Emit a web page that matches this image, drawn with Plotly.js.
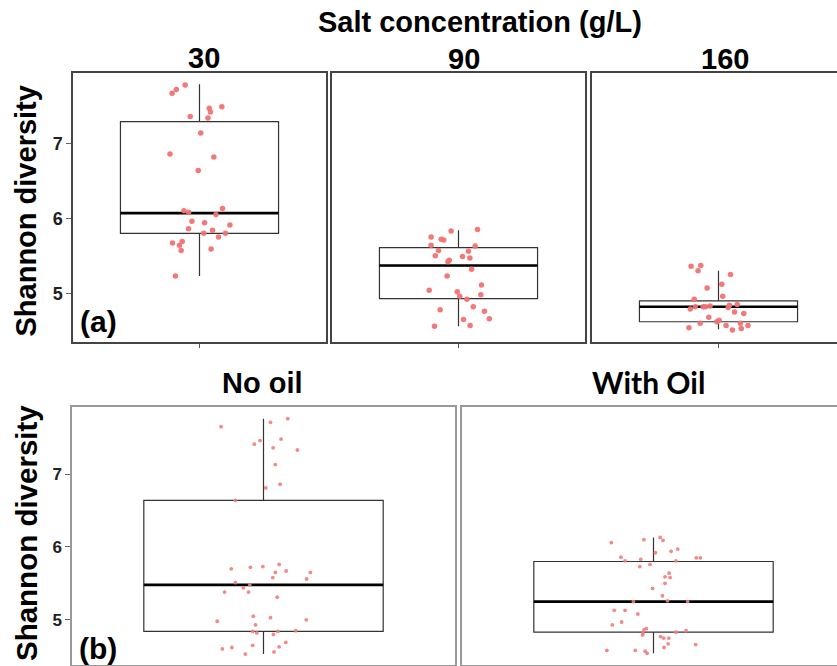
<!DOCTYPE html>
<html>
<head>
<meta charset="utf-8">
<script src="https://cdn.plot.ly/plotly-3.0.1.min.js"></script>
<style>
html,body{margin:0;padding:0;overflow:hidden;background:#fff;}
#chart{width:852px;height:666px;}
</style>
</head>
<body>
<div id="chart"></div>
<script>
// ---------------- DATA ----------------
const saltLevels = ['30', '90', '160'];
const oilGroups = ['No oil', 'With Oil'];
const yTicks = [5, 6, 7];

// box statistics
const saltQ1     = [5.80, 4.93, 4.62];
const saltMedian = [6.07, 5.37, 4.82];
const saltQ3     = [7.29, 5.61, 4.90];
const saltLow    = [5.23, 4.56, 4.52];
const saltHigh   = [7.79, 5.84, 5.30];

const oilQ1     = [4.84, 4.83];
const oilMedian = [5.48, 5.25];
const oilQ3     = [6.64, 5.80];
const oilLow    = [4.53, 4.54];
const oilHigh   = [7.76, 6.13];

// jittered points: value and horizontal jitter offset
const salt30Y   = [7.78,7.72,7.67,7.47,7.49,7.42,7.36,7.34,7.14,6.86,6.82,6.64,6.10,6.08,6.13,6.05,5.96,5.94,5.91,5.86,5.84,5.80,5.80,5.75,5.69,5.67,5.64,5.57,5.59,5.23];
const salt30Jit = [-0.068,-0.11,-0.13,0.046,0.106,0.052,-0.044,0.04,0.006,-0.14,0.068,-0.006,-0.074,-0.052,0.109,0.078,-0.036,0.024,0.144,-0.052,0.062,0.02,0.123,0.09,-0.082,-0.128,-0.095,-0.087,0.055,-0.114];

const salt90Y   = [5.85,5.83,5.75,5.72,5.71,5.64,5.63,5.57,5.56,5.50,5.49,5.47,5.44,5.42,5.32,5.23,5.11,5.04,5.02,4.98,4.96,4.92,4.82,4.78,4.76,4.66,4.65,4.56,4.57];
const salt90Jit = [0.09,-0.035,-0.13,-0.082,-0.07,-0.13,0.079,-0.095,0.047,-0.11,0.019,0.054,-0.044,-0.05,0.062,-0.054,0.109,-0.139,-0.006,0.106,0.006,0.04,0.07,-0.087,0.123,0.146,0.024,-0.114,0.055];

const salt160Y   = [5.36,5.37,5.30,5.25,5.12,5.07,4.96,4.92,4.82,4.79,4.82,4.82,4.83,4.84,4.85,4.81,4.75,4.73,4.68,4.64,4.62,4.60,4.57,4.60,4.57,4.54,4.51,4.53];
const salt160Jit = [-0.13,-0.084,-0.097,0.057,0.016,-0.054,0.02,-0.115,-0.11,-0.134,-0.073,-0.062,-0.04,0.052,0.089,0.046,0.076,0.12,-0.046,0.003,-0.008,-0.087,0.036,0.104,0.14,-0.14,0.066,0.108];

const noOilY   = [7.65,7.71,7.76,7.46,7.48,7.41,7.36,7.33,7.13,6.86,6.81,6.64,5.70,5.72,5.73,5.76,5.65,5.67,5.65,5.58,5.56,5.51,5.48,5.44,5.38,5.38,5.31,4.98,5.05,5.03,5.00,4.93,4.84,4.82,4.84,4.85,4.80,4.60,4.62,4.65,4.69,4.63,4.53,4.56];
const noOilJit = [-0.133,0.022,0.076,-0.011,0.055,-0.029,0.03,0.106,0.037,0.052,0.007,-0.088,-0.101,-0.041,-0.002,0.049,0.037,0.071,0.147,0.029,0.135,-0.088,-0.043,-0.063,-0.122,-0.047,0.043,-0.145,-0.032,0.022,0.134,-0.025,-0.034,-0.021,0.045,0.101,0.031,-0.129,-0.099,-0.034,0.07,0.049,-0.057,0.033];

const withOilY   = [6.06,6.10,6.13,6.09,5.92,5.94,5.97,5.86,5.81,5.83,5.76,5.73,5.81,5.85,5.85,5.59,5.64,5.58,5.50,5.43,5.33,5.25,5.26,5.25,5.13,5.13,5.08,4.97,4.93,4.88,4.86,4.82,4.79,4.83,4.85,4.77,4.75,4.75,4.67,4.62,4.66,4.58,4.58,4.57,4.54];
const withOilJit = [-0.132,-0.03,0.021,0.03,0.006,0.055,0.076,-0.102,-0.089,-0.04,-0.011,-0.043,0.07,0.134,0.147,0.036,0.049,0.052,0.036,-0.003,0.028,-0.063,0.044,0.107,-0.123,-0.089,-0.049,-0.1,-0.129,-0.022,-0.03,-0.033,-0.034,0.07,0.102,0.022,0.032,0.048,0.046,0.033,0.132,-0.146,-0.057,-0.026,-0.02];

// ---------------- LAYOUT HELPERS ----------------
const W = 852, H = 666;
const px = v => v / W;
const py = v => 1 - v / H;

const panels = [
  {x0: 73,  x1: 326, y0: 73,  y1: 342, range: [4.35, 7.94], row: 'top'},
  {x0: 332, x1: 585, y0: 73,  y1: 342, range: [4.35, 7.94], row: 'top'},
  {x0: 592, x1: 845, y0: 73,  y1: 342, range: [4.35, 7.94], row: 'top'},
  {x0: 72,  x1: 455, y0: 407, y1: 665, range: [4.38, 7.92], row: 'bottom'},
  {x0: 462, x1: 845, y0: 407, y1: 665, range: [4.38, 7.92], row: 'bottom'}
];

const groups = [
  {q1: saltQ1[0], med: saltMedian[0], q3: saltQ3[0], lo: saltLow[0], hi: saltHigh[0], y: salt30Y,  jit: salt30Jit},
  {q1: saltQ1[1], med: saltMedian[1], q3: saltQ3[1], lo: saltLow[1], hi: saltHigh[1], y: salt90Y,  jit: salt90Jit},
  {q1: saltQ1[2], med: saltMedian[2], q3: saltQ3[2], lo: saltLow[2], hi: saltHigh[2], y: salt160Y, jit: salt160Jit},
  {q1: oilQ1[0], med: oilMedian[0], q3: oilQ3[0], lo: oilLow[0], hi: oilHigh[0], y: noOilY,   jit: noOilJit},
  {q1: oilQ1[1], med: oilMedian[1], q3: oilQ3[1], lo: oilLow[1], hi: oilHigh[1], y: withOilY, jit: withOilJit}
];

const BOXW = 0.75;
const traces = [];
const layout = {
  width: W, height: H, autosize: false,
  margin: {l: 0, r: 0, t: 0, b: 0, pad: 0},
  paper_bgcolor: '#fff', plot_bgcolor: '#fff',
  showlegend: false,
  annotations: []
};

groups.forEach((g, i) => {
  const n = i === 0 ? '' : String(i + 1);
  const xa = 'x' + n, ya = 'y' + n;
  const p = panels[i];
  const top = p.row === 'top';
  const lineCol = top ? '#444' : '#999';

  traces.push({
    type: 'box', xaxis: xa, yaxis: ya,
    x: [1], q1: [g.q1], median: [g.med], q3: [g.q3],
    lowerfence: [g.lo], upperfence: [g.hi],
    width: BOXW, whiskerwidth: 0, boxpoints: false,
    fillcolor: 'rgba(255,255,255,1)',
    line: {color: '#333', width: 1.2},
    hoverinfo: 'skip'
  });
  traces.push({
    type: 'scatter', mode: 'lines', xaxis: xa, yaxis: ya,
    x: [1 - BOXW / 2, 1 + BOXW / 2], y: [g.med, g.med],
    line: {color: '#000', width: 2.6}, hoverinfo: 'skip'
  });
  traces.push({
    type: 'scatter', mode: 'markers', xaxis: xa, yaxis: ya,
    x: g.jit.map(j => 1 + j), y: g.y,
    marker: {color: top ? '#F07272' : '#F27C7C', size: top ? 5.5 : 3.8, opacity: top ? 0.95 : 0.9},
    hoverinfo: 'skip'
  });

  layout['xaxis' + n] = {
    domain: [px(p.x0), px(p.x1)], anchor: ya,
    range: [0.4, 1.6], tickvals: [1], ticktext: [''],
    ticks: 'outside', ticklen: 4, tickcolor: '#555', tickwidth: 1,
    showgrid: false, zeroline: false,
    showline: true, mirror: true, linecolor: lineCol, linewidth: 1.6,
    fixedrange: true
  };
  const firstCol = (i === 0 || i === 3);
  layout['yaxis' + n] = {
    domain: [py(p.y1), py(p.y0)], anchor: xa,
    range: p.range, tickvals: yTicks, ticktext: yTicks.map(String),
    ticks: firstCol ? 'outside' : '', ticklen: 5, tickcolor: '#666', tickwidth: 1,
    showticklabels: firstCol,
    tickfont: {family: 'Liberation Sans, Arial, sans-serif', size: top ? 18 : 17, color: '#222', weight: 'bold'},
    showgrid: false, zeroline: false,
    showline: true, mirror: true, linecolor: lineCol, linewidth: 1.6,
    fixedrange: true
  };
});

const arial = 'Liberation Sans, Arial, sans-serif';
function ann(text, x, y, size, opts) {
  layout.annotations.push(Object.assign({
    text: text, xref: 'paper', yref: 'paper', x: px(x), y: py(y),
    xanchor: 'center', yanchor: 'middle', showarrow: false,
    font: {family: arial, size: size, color: '#000', weight: 'bold'}
  }, opts || {}));
}

ann('Salt concentration (g/L)', 480, 22.5, 29);
ann(saltLevels[0], 204, 58, 29);
ann(saltLevels[1], 464, 59, 29);
ann(saltLevels[2], 725, 59, 29);
ann(oilGroups[0], 262, 382.5, 29);
ann(oilGroups[1], 648, 381.5, 29, {font: {family: 'Lato, Carlito, sans-serif', size: 30, color: '#000', weight: 'bold'}});
ann('(a)', 98.5, 321, 30);
ann('(b)', 97.5, 648, 30);
ann('Shannon diversity', 26, 211.5, 29, {textangle: -90});
ann('Shannon diversity', 26, 533, 29.5, {textangle: -90});

Plotly.newPlot('chart', traces, layout, {staticPlot: true, displayModeBar: false});
</script>
</body>
</html>
